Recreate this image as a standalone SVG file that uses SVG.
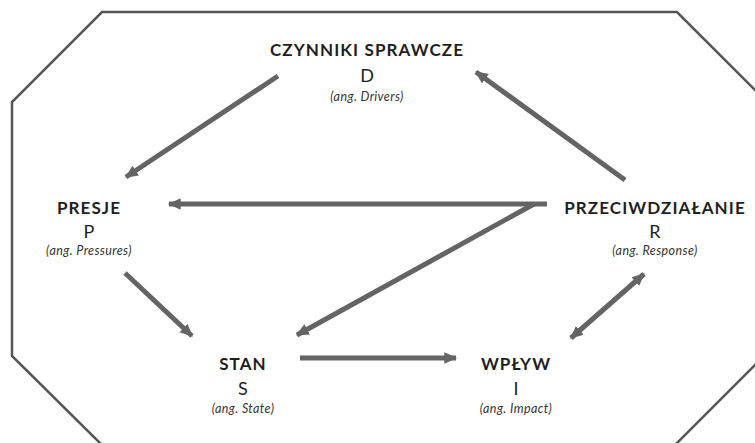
<svg xmlns="http://www.w3.org/2000/svg" width="755" height="443" viewBox="0 0 755 443">
<style>
.t{font-family:Lato,"Open Sans","Liberation Sans",sans-serif;fill:#1e1e1e;text-anchor:middle}
.b{font-weight:bold;font-size:17px;letter-spacing:1.1px}
.l{font-size:18px}
.s{font-style:italic;font-size:12.5px;letter-spacing:0.4px;fill:#333}
.a{stroke:#646464;stroke-width:5;fill:none}
</style>
<defs>
<marker id="ah" markerUnits="userSpaceOnUse" markerWidth="14" markerHeight="14" refX="10" refY="6" orient="auto-start-reverse" viewBox="0 0 12 12">
<path d="M0,1 L11,6 L0,11 Z" fill="#646464"/>
</marker>
</defs>
<rect width="755" height="443" fill="#fff"/>
<polygon points="102,12 677,12 760,95 760,360 675,445 102,445 12,356 12,102" fill="none" stroke="#555" stroke-width="2.5"/>
<g id="connectors">
<line class="a" x1="278" y1="76" x2="126" y2="177" marker-end="url(#ah)"/>
<line class="a" x1="625" y1="180" x2="476" y2="72" marker-end="url(#ah)"/>
<line class="a" x1="547" y1="204" x2="169" y2="204" marker-end="url(#ah)"/>
<polyline class="a" points="534,204 297,335" marker-end="url(#ah)"/>
<line class="a" x1="125" y1="273" x2="192" y2="336" marker-end="url(#ah)"/>
<line class="a" x1="300" y1="358" x2="456" y2="358" marker-end="url(#ah)"/>
<line class="a" x1="571" y1="338" x2="644" y2="274" marker-start="url(#ah)" marker-end="url(#ah)"/>
</g>
<g id="node-d">
<text class="t b" x="367" y="56">CZYNNIKI SPRAWCZE</text>
<text class="t l" x="367" y="82">D</text>
<text class="t s" x="367" y="101">(ang. Drivers)</text>
</g>
<g id="node-p">
<text class="t b" x="89" y="214">PRESJE</text>
<text class="t l" x="89" y="238">P</text>
<text class="t s" x="89" y="255">(ang. Pressures)</text>
</g>
<g id="node-s">
<text class="t b" x="243" y="370">STAN</text>
<text class="t l" x="243" y="395">S</text>
<text class="t s" x="243" y="413">(ang. State)</text>
</g>
<g id="node-i">
<text class="t b" x="516" y="370">WPŁYW</text>
<text class="t l" x="516" y="395">I</text>
<text class="t s" x="516" y="413">(ang. Impact)</text>
</g>
<g id="node-r">
<text class="t b" x="655" y="214">PRZECIWDZIAŁANIE</text>
<text class="t l" x="655" y="238">R</text>
<text class="t s" x="655" y="255">(ang. Response)</text>
</g>
</svg>
